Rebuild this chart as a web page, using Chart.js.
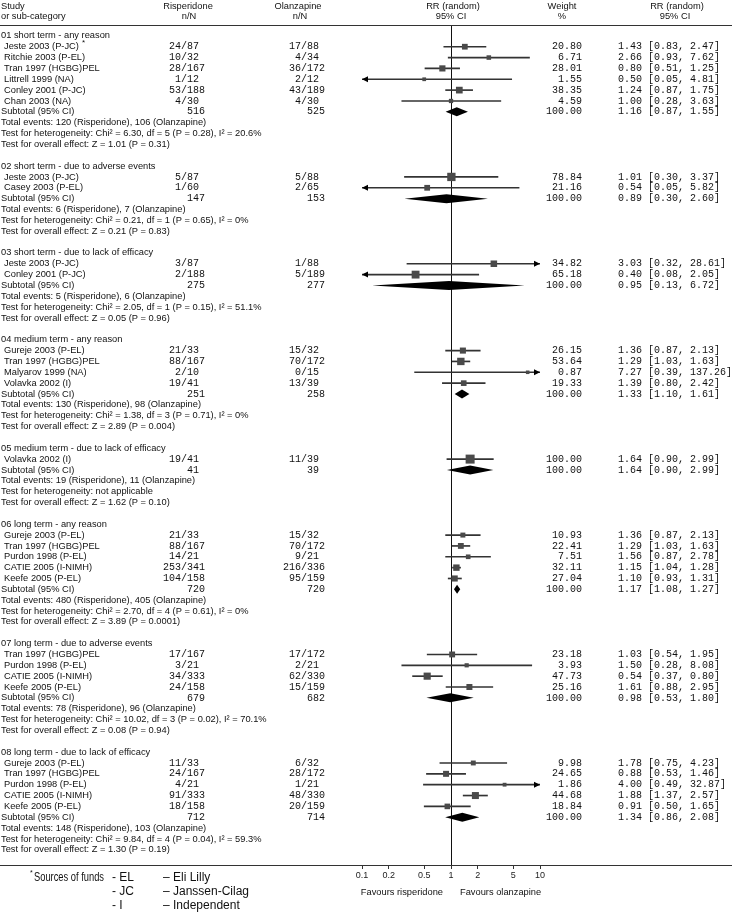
<!DOCTYPE html>
<html>
<head>
<meta charset="utf-8">
<script src="https://cdn.jsdelivr.net/npm/chart.js@4.4.1/dist/chart.umd.min.js"></script>
<style>
  html, body { margin: 0; padding: 0; background: #fff; }
  #wrap { width: 732px; height: 912px; }
</style>
</head>
<body>
<div id="wrap"><canvas id="forest" width="732" height="912"></canvas></div>
<script>
/* forest plot: risperidone vs olanzapine, leaving the study early */

// ---- sub-categories ----
const groupNames = [
  '01 short term - any reason',
  '02 short term - due to adverse events',
  '03 short term - due to lack of efficacy',
  '04 medium term - any reason',
  '05 medium term - due to lack of efficacy',
  '06 long term - any reason',
  '07 long term - due to adverse events',
  '08 long term - due to lack of efficacy'
];

// ---- studies ----
const studyNames = [
  'Jeste 2003 (P-JC)', 'Ritchie 2003 (P-EL)', 'Tran 1997 (HGBG)PEL', 'Littrell 1999 (NA)', 'Conley 2001 (P-JC)', 'Chan 2003 (NA)',
  'Jeste 2003 (P-JC)', 'Casey 2003 (P-EL)',
  'Jeste 2003 (P-JC)', 'Conley 2001 (P-JC)',
  'Gureje 2003 (P-EL)', 'Tran 1997 (HGBG)PEL', 'Malyarov 1999 (NA)', 'Volavka 2002 (I)',
  'Volavka 2002 (I)',
  'Gureje 2003 (P-EL)', 'Tran 1997 (HGBG)PEL', 'Purdon 1998 (P-EL)', 'CATIE 2005 (I-NIMH)', 'Keefe 2005 (P-EL)',
  'Tran 1997 (HGBG)PEL', 'Purdon 1998 (P-EL)', 'CATIE 2005 (I-NIMH)', 'Keefe 2005 (P-EL)',
  'Gureje 2003 (P-EL)', 'Tran 1997 (HGBG)PEL', 'Purdon 1998 (P-EL)', 'CATIE 2005 (I-NIMH)', 'Keefe 2005 (P-EL)'
];
const studyGroup = [0,0,0,0,0,0, 1,1, 2,2, 3,3,3,3, 4, 5,5,5,5,5, 6,6,6,6, 7,7,7,7,7];
const risEvents = [24,10,28,1,53,4, 5,1, 3,2, 21,88,2,19, 19, 21,88,14,253,104, 17,3,34,24, 11,24,4,91,18];
const risTotal  = [87,32,167,12,188,30, 87,60, 87,188, 33,167,10,41, 41, 33,167,21,341,158, 167,21,333,158, 33,167,21,333,158];
const olzEvents = [17,4,36,2,43,4, 5,2, 1,5, 15,70,0,13, 11, 15,70,9,216,95, 17,2,62,15, 6,28,1,48,20];
const olzTotal  = [88,34,172,12,189,30, 88,65, 88,189, 32,172,15,39, 39, 32,172,21,336,159, 172,21,330,159, 32,172,21,330,159];
const studyWeight = [20.80,6.71,28.01,1.55,38.35,4.59, 78.84,21.16, 34.82,65.18, 26.15,53.64,0.87,19.33, 100.00,
  10.93,22.41,7.51,32.11,27.04, 23.18,3.93,47.73,25.16, 9.98,24.65,1.86,44.68,18.84];
const studyRR   = [1.43,2.66,0.80,0.50,1.24,1.00, 1.01,0.54, 3.03,0.40, 1.36,1.29,7.27,1.39, 1.64,
  1.36,1.29,1.56,1.15,1.10, 1.03,1.50,0.54,1.61, 1.78,0.88,4.00,1.88,0.91];
const studyLow  = [0.83,0.93,0.51,0.05,0.87,0.28, 0.30,0.05, 0.32,0.08, 0.87,1.03,0.39,0.80, 0.90,
  0.87,1.03,0.87,1.04,0.93, 0.54,0.28,0.37,0.88, 0.75,0.53,0.49,1.37,0.50];
const studyHigh = [2.47,7.62,1.25,4.81,1.75,3.63, 3.37,5.82, 28.61,2.05, 2.13,1.63,137.26,2.42, 2.99,
  2.13,1.63,2.78,1.28,1.31, 1.95,8.08,0.80,2.95, 4.23,1.46,32.87,2.57,1.65];

// ---- subtotals ----
const subRisTotal = [516,147,275,251,41,720,679,712];
const subOlzTotal = [525,153,277,258,39,720,682,714];
const subRR   = [1.16,0.89,0.95,1.33,1.64,1.17,0.98,1.34];
const subLow  = [0.87,0.30,0.13,1.10,0.90,1.08,0.53,0.86];
const subHigh = [1.55,2.60,6.72,1.61,2.99,1.27,1.80,2.08];
const risEventsSum = [120,6,5,130,19,480,78,148];
const olzEventsSum = [106,7,6,98,11,405,96,103];
const heterogeneity = [
  'Chi² = 6.30, df = 5 (P = 0.28), I² = 20.6%',
  'Chi² = 0.21, df = 1 (P = 0.65), I² = 0%',
  'Chi² = 2.05, df = 1 (P = 0.15), I² = 51.1%',
  'Chi² = 1.38, df = 3 (P = 0.71), I² = 0%',
  'not applicable',
  'Chi² = 2.70, df = 4 (P = 0.61), I² = 0%',
  'Chi² = 10.02, df = 3 (P = 0.02), I² = 70.1%',
  'Chi² = 9.84, df = 4 (P = 0.04), I² = 59.3%'
];
const overallEffect = [
  'Z = 1.01 (P = 0.31)', 'Z = 0.21 (P = 0.83)', 'Z = 0.05 (P = 0.96)', 'Z = 2.89 (P = 0.004)',
  'Z = 1.62 (P = 0.10)', 'Z = 3.89 (P = 0.0001)', 'Z = 0.08 (P = 0.94)', 'Z = 1.30 (P = 0.19)'
];

// ---- axis ----
const tickValues = [0.1, 0.2, 0.5, 1, 2, 5, 10];
const tickLabels = ['0.1', '0.2', '0.5', '1', '2', '5', '10'];

const fundCodes = ['- EL', '- JC', '- I'];
const fundNames = ['– Eli Lilly', '– Janssen-Cilag', '– Independent'];

// row index of every line of the table
const headerRow = [], subRow = [], studyRow = [];
let r = 0;
groupNames.forEach((name, g) => {
  headerRow.push(r++);
  studyGroup.forEach((sg, i) => { if (sg === g) studyRow[i] = r++; });
  subRow.push(r);
  r += 4;   // subtotal + 3 lines of stats
  r++;      // blank line
});

const SANS = '"Liberation Sans", Arial, sans-serif';
const MONO = '"Liberation Mono", "Courier New", monospace';
Chart.defaults.font.family = SANS;

// square side grows with the study weight
function boxSide(w) { return 3 + 0.6 * Math.sqrt(w); }

const forestExtras = {
  id: 'forestExtras',
  afterDatasetsDraw(chart) {
    const { ctx, chartArea: a, scales: { x, y } } = chart;
    ctx.save();
    ctx.beginPath();
    ctx.rect(a.left, a.top, a.right - a.left, a.bottom - a.top);
    ctx.clip();
    // pooled diamonds
    ctx.fillStyle = '#000';
    subRR.forEach((v, g) => {
      const py = y.getPixelForValue(subRow[g]);
      const pl = x.getPixelForValue(subLow[g]);
      const pm = x.getPixelForValue(v);
      const ph = x.getPixelForValue(subHigh[g]);
      ctx.beginPath();
      ctx.moveTo(pl, py);
      ctx.lineTo(pm, py - 4.5);
      ctx.lineTo(ph, py);
      ctx.lineTo(pm, py + 4.5);
      ctx.closePath();
      ctx.fill();
    });
    ctx.restore();

    // arrow heads where a CI runs off the scale
    ctx.save();
    ctx.fillStyle = '#000';
    studyRow.forEach((row, i) => {
      const py = y.getPixelForValue(row);
      if (studyLow[i] < x.min) {
        const tip = x.getPixelForValue(x.min);
        ctx.beginPath();
        ctx.moveTo(tip, py); ctx.lineTo(tip + 6, py - 3); ctx.lineTo(tip + 6, py + 3);
        ctx.closePath(); ctx.fill();
      }
      if (studyHigh[i] > x.max) {
        const tip = x.getPixelForValue(x.max);
        ctx.beginPath();
        ctx.moveTo(tip, py); ctx.lineTo(tip - 6, py - 3); ctx.lineTo(tip - 6, py + 3);
        ctx.closePath(); ctx.fill();
      }
    });
    ctx.restore();
  },
  afterDraw(chart) {
    const { ctx, chartArea: a, scales: { x, y } } = chart;
    const W = chart.width;
    const x1 = x.getPixelForValue(1);
    ctx.save();

    // rules
    ctx.strokeStyle = '#333';
    ctx.lineWidth = 1;
    ctx.beginPath();
    ctx.moveTo(0, a.top + 0.5); ctx.lineTo(W, a.top + 0.5);
    ctx.moveTo(0, a.bottom + 0.5); ctx.lineTo(W, a.bottom + 0.5);
    ctx.stroke();

    ctx.fillStyle = '#111';
    ctx.textBaseline = 'middle';
    const sans = '9.3px ' + SANS;
    const mono = '10px ' + MONO;
    const txt = (s, px, py, align, font, maxW) => {
      ctx.font = font || sans;
      ctx.textAlign = align || 'left';
      if (maxW) ctx.fillText(s, px, py, maxW);
      else ctx.fillText(s, px, py);
    };

    // column headings
    txt('Study', 1, 6); txt('or sub-category', 1, 16);
    txt('Risperidone', 188, 6, 'center'); txt('n/N', 189, 16, 'center');
    txt('Olanzapine', 298, 6, 'center'); txt('n/N', 300, 16, 'center');
    txt('RR (random)', x1 + 2, 6, 'center'); txt('95% CI', x1, 16, 'center');
    txt('Weight', 562, 6, 'center'); txt('%', 562, 16, 'center');
    txt('RR (random)', 677, 6, 'center'); txt('95% CI', 675, 16, 'center');

    const risSlash = 181, olzSlash = 301;
    ctx.font = mono;
    const slashW = ctx.measureText('/').width;
    const nN = (n, N, slashX, py) => {
      txt(String(n), slashX, py, 'right', mono);
      txt('/' + N, slashX, py, 'left', mono);
    };
    const ci = (v, lo, hi) => v.toFixed(2) + ' [' + lo.toFixed(2) + ', ' + hi.toFixed(2) + ']';

    // studies
    studyRow.forEach((row, i) => {
      const py = y.getPixelForValue(row);
      txt(studyNames[i], 4, py);
      nN(risEvents[i], risTotal[i], risSlash, py);
      nN(olzEvents[i], olzTotal[i], olzSlash, py);
      txt(studyWeight[i].toFixed(2), 582, py, 'right', mono);
      txt(ci(studyRR[i], studyLow[i], studyHigh[i]), 618, py, 'left', mono);
    });
    // footnote mark on the first study
    ctx.font = sans;
    const markX = 4 + ctx.measureText(studyNames[0]).width + 3;
    txt('*', markX, y.getPixelForValue(studyRow[0]) - 4, 'left', '8px ' + SANS);

    // sub-category headers, subtotals and stats
    groupNames.forEach((name, g) => {
      txt(name, 1, y.getPixelForValue(headerRow[g]));
      const py = y.getPixelForValue(subRow[g]);
      txt('Subtotal (95% CI)', 1, py);
      txt(String(subRisTotal[g]), risSlash + slashW, py, 'left', mono);
      txt(String(subOlzTotal[g]), olzSlash + slashW, py, 'left', mono);
      txt((100).toFixed(2), 582, py, 'right', mono);
      txt(ci(subRR[g], subLow[g], subHigh[g]), 618, py, 'left', mono);
      txt('Total events: ' + risEventsSum[g] + ' (Risperidone), ' + olzEventsSum[g] + ' (Olanzapine)', 1, y.getPixelForValue(subRow[g] + 1));
      txt('Test for heterogeneity: ' + heterogeneity[g], 1, y.getPixelForValue(subRow[g] + 2));
      txt('Test for overall effect: ' + overallEffect[g], 1, y.getPixelForValue(subRow[g] + 3));
    });

    // axis captions
    txt('Favours risperidone', x1 - 8, 892, 'right');
    txt('Favours olanzapine', x1 + 9, 892, 'left');

    // sources of funds
    const foot = '12px ' + SANS;
    txt('*', 30, 873, 'left', '7px ' + SANS);
    txt('Sources of funds', 34, 878, 'left', foot, 70);
    fundCodes.forEach((c, k) => {
      const py = 878 + k * 14;
      txt(c, 112, py, 'left', foot);
      txt(fundNames[k], 163, py, 'left', foot);
    });
    ctx.restore();
  }
};

const chart = new Chart(document.getElementById('forest'), {
  type: 'scatter',
  data: {
    datasets: [
      {
        type: 'scatter',
        label: 'RR',
        order: 0,
        data: studyRR.map((v, i) => ({ x: v, y: studyRow[i] })),
        pointStyle: 'rect',
        pointRadius: c => boxSide(studyWeight[c.dataIndex]) / Math.SQRT2,
        pointHoverRadius: c => boxSide(studyWeight[c.dataIndex]) / Math.SQRT2,
        pointBorderWidth: 0,
        backgroundColor: '#4a4a4a',
        borderColor: '#4a4a4a'
      },
      {
        type: 'bar',
        label: '95% CI',
        order: 1,
        indexAxis: 'y',
        grouped: false,
        data: studyLow.map((lo, i) => ({ x: [lo, studyHigh[i]], y: studyRow[i] })),
        barThickness: 1,
        backgroundColor: '#333',
        borderWidth: 0
      }
    ]
  },
  options: {
    responsive: false,
    animation: false,
    devicePixelRatio: 1,
    layout: { padding: { left: 362, right: 192, top: 25, bottom: 0 } },
    plugins: { legend: { display: false }, tooltip: { enabled: false } },
    scales: {
      x: {
        type: 'logarithmic',
        position: 'bottom',
        min: 0.1,
        max: 10,
        offset: false,
        afterBuildTicks: s => { s.ticks = tickValues.map(v => ({ value: v })); },
        afterFit: s => { s.height = 47; },
        ticks: {
          autoSkip: false,
          maxRotation: 0,
          padding: 1,
          color: '#222',
          font: { size: 9 },
          callback: (v, i) => tickLabels[i]
        },
        grid: {
          offset: false,
          color: c => (c.tick && c.tick.value === 1) ? '#111' : 'rgba(0,0,0,0)',
          tickColor: '#333',
          tickLength: 4
        },
        border: { display: true, color: '#333' }
      },
      y: {
        type: 'linear',
        min: -1,
        max: 76.4,
        reverse: true,
        offset: false,
        grid: { offset: false },
        display: false
      }
    }
  },
  plugins: [forestExtras]
});
</script>
</body>
</html>
